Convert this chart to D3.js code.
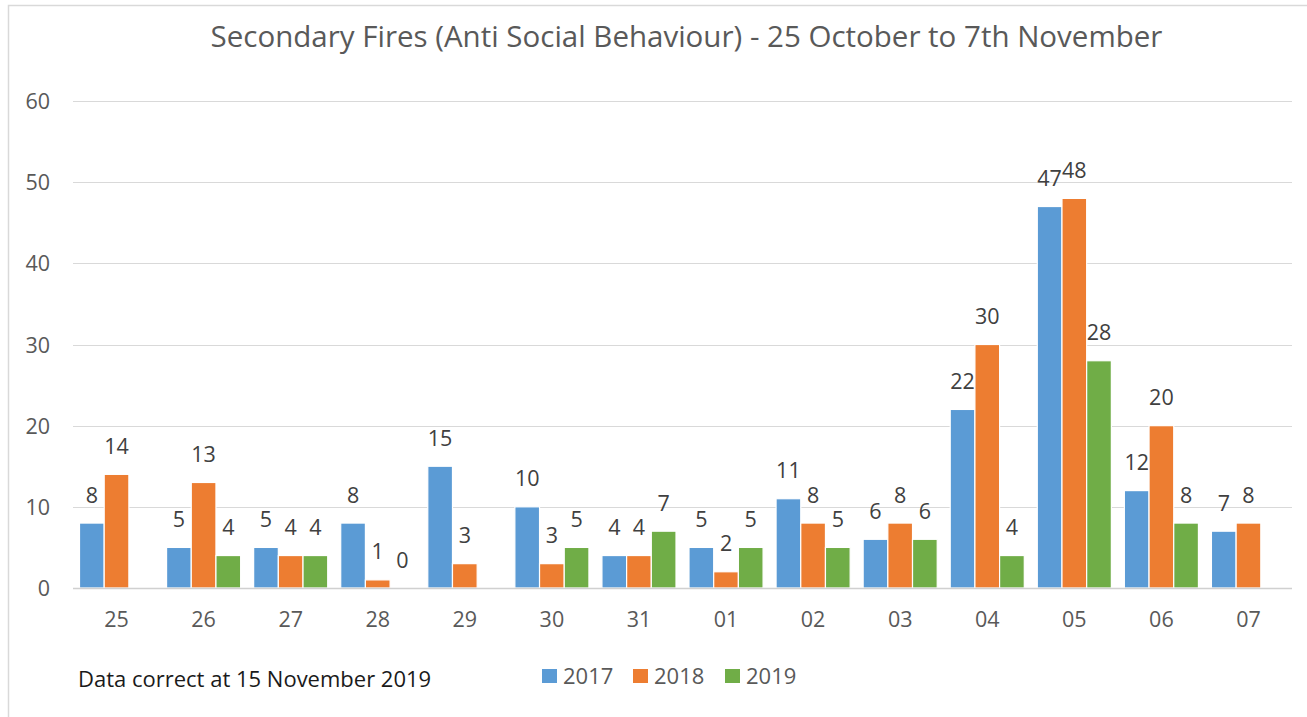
<!DOCTYPE html>
<html><head><meta charset="utf-8">
<script src="https://cdn.jsdelivr.net/npm/d3@7"></script>
<style>body{margin:0;background:#fff;} text{font-family:"Open Sans","Noto Sans",sans-serif;}</style>
</head><body>
<svg id="c" width="1307" height="717"></svg>
<script>
const categories = ["25","26","27","28","29","30","31","01","02","03","04","05","06","07"];
const seriesNames = ["2017","2018","2019"];
const values2017 = [8,5,5,8,15,10,4,5,11,6,22,47,12,7];
const values2018 = [14,13,4,1,3,3,4,2,8,8,30,48,20,8];
const values2019 = [null,4,4,0,null,5,7,5,5,6,4,28,8,null];
const yTicks = [0,10,20,30,40,50,60];
const colors = ["#5B9BD5","#ED7D31","#70AD47"];
const titleText = "Secondary Fires (Anti Social Behaviour) - 25 October to 7th November";
const noteText = "Data correct at 15 November 2019";

const svg = d3.select("#c");
svg.append("rect").attr("x",8.5).attr("y",5.5).attr("width",1310).attr("height",720)
  .attr("fill","#fff").attr("stroke","#d9d9d9").attr("stroke-width",1.5);

const x = d3.scaleBand().domain(categories).range([73,1292]).paddingInner(0).paddingOuter(0);
const y = d3.scaleLinear().domain([0,60]).range([588,101]);
const inner = d3.scaleBand().domain(seriesNames).range([6.5, x.bandwidth()-6.5]);

// gridlines
svg.append("g").selectAll("line").data(yTicks.filter(d=>d>0)).join("line")
  .attr("x1",73).attr("x2",1292).attr("y1",d=>Math.round(y(d))+0.5).attr("y2",d=>Math.round(y(d))+0.5)
  .attr("stroke","#d9d9d9").attr("stroke-width",1);

// y labels
svg.append("g").selectAll("text").data(yTicks).join("text")
  .attr("x",50).attr("y",d=>y(d)+8).attr("text-anchor","end")
  .attr("font-size",21.5).attr("fill","#595959").text(d=>d);

const series = [values2017, values2018, values2019];
series.forEach((vals,si)=>{
  const g = svg.append("g");
  const data = categories.map((c,i)=>({c, v: vals[i]})).filter(d=>d.v!==null);
  g.selectAll("rect").data(data).join("rect")
    .attr("x",d=>x(d.c)+inner(seriesNames[si]))
    .attr("width",inner.bandwidth())
    .attr("y",d=>y(d.v))
    .attr("height",d=>y(0)-y(d.v))
    .attr("fill",colors[si]).attr("stroke","#fff").attr("stroke-width",1.2);
  g.selectAll("text").data(data).join("text")
    .attr("x",d=>x(d.c)+inner(seriesNames[si])+inner.bandwidth()/2)
    .attr("y",d=>y(d.v)-20.5)
    .attr("text-anchor","middle").attr("font-size",21.5).attr("fill","#404040").text(d=>d.v);
});

// axis line
svg.append("line").attr("x1",73).attr("x2",1292).attr("y1",588.5).attr("y2",588.5)
  .attr("stroke","#d0d0d0").attr("stroke-width",1.5);

// x labels
svg.append("g").selectAll("text").data(categories).join("text")
  .attr("x",d=>x(d)+x.bandwidth()/2).attr("y",627).attr("text-anchor","middle")
  .attr("font-size",21.5).attr("fill","#595959").text(d=>d);

// title
svg.append("text").attr("x",686.5).attr("y",47).attr("text-anchor","middle")
  .attr("font-size",29.5).attr("fill","#595959").text(titleText);

// note
svg.append("text").attr("x",78).attr("y",687).attr("font-size",22).attr("fill","#1a1a1a").text(noteText);

// legend
const legX = [542,633,725];
seriesNames.forEach((s,i)=>{
  svg.append("rect").attr("x",legX[i]).attr("y",669).attr("width",15).attr("height",14).attr("fill",colors[i]);
  svg.append("text").attr("x",legX[i]+21).attr("y",684).attr("font-size",22).attr("fill","#595959").text(s);
});
</script>
</body></html>
